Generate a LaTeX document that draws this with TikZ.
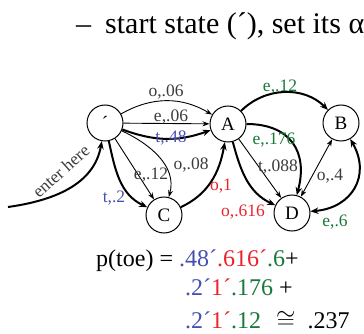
\documentclass[tikz,border=0pt]{standalone}
\usepackage{fontspec}
\setmainfont{Liberation Serif}
\usetikzlibrary{arrows.meta}
\definecolor{lblue}{RGB}{70,80,175}
\definecolor{lred}{RGB}{235,35,45}
\definecolor{lgreen}{RGB}{25,120,60}
\definecolor{lgray}{RGB}{60,60,60}
\begin{document}
\begin{tikzpicture}[x=1pt,y=1pt,
  st/.style={circle,draw,line width=1pt,minimum size=36pt,inner sep=0pt,font=\fontsize{19}{19}\selectfont},
  tedge/.style={line width=0.9pt,-{Stealth[length=7pt,width=5pt]}},
  kedge/.style={line width=2pt,-{Stealth[length=8pt,width=6.5pt]}},
  lab/.style={font=\fontsize{17.5}{17.5}\selectfont,inner sep=0pt,text=lgray},
  big/.style={font=\fontsize{24}{24}\selectfont,inner sep=0pt,anchor=base west},
  huge/.style={font=\fontsize{30}{30}\selectfont,inner sep=0pt,anchor=base west}
]
\useasboundingbox (0,0) rectangle (364,-334);
\clip (0,0) rectangle (364,-334);
% title
\node[huge] (dash) at (76,-34) {–};
\node[huge] (title) at (105,-34) {start state (´), set its α};
% states
\node[st] (S) at (105,-123) {´};
\node[st] (A) at (228,-124) {A};
\node[st] (B) at (341,-123) {B};
\node[st] (C) at (164,-215) {C};
\node[st] (D) at (292,-213) {D};
\coordinate (E) at (8,-207);
% edges
\draw[tedge] (S) to[bend left=30] (A);
\draw[tedge] (S) -- (A);
\draw[kedge] (S) to[bend right=20] (A);
\draw[tedge] (S) -- (C);
\draw[tedge] (S) to[out=-25,in=75] (C);
\draw[kedge] (S) to[out=-78,in=155] (C);
\draw[kedge] (E) to[out=8,in=-100] (S);
\draw[kedge] (C) to[out=25,in=-100] (A);
\draw[kedge] (A) to[out=45,in=135] (B);
\draw[kedge] (A) to[out=0,in=75,looseness=1.3] (D);
\draw[tedge] (A) -- (D);
\draw[kedge] (A) to[out=-75,in=155] (D);
\draw[tedge,{Stealth[length=7pt,width=5pt]}-{Stealth[length=7pt,width=5pt]}] (D) -- (B);
\draw[kedge,{Stealth[length=8pt,width=6.5pt]}-{Stealth[length=8pt,width=6.5pt]}] (D) to[out=5,in=-60,looseness=1.3] (B);
% labels
\node[lab] (l1) at (166,-92) {o,.06};
\node[lab] (l2) at (171,-117) {e,.06};
\node[lab,text=lblue] (l3) at (171,-138) {t,.48};
\node[lab] (l4) at (151,-175) {e,.12};
\node[lab] (l5) at (191,-165) {o,.08};
\node[lab,text=lblue] (l6) at (114,-198) {t,.2};
\node[lab,rotate=42] (l7) at (61,-171) {enter here};
\node[lab,text=lred] (l8) at (221,-186) {o,1};
\node[lab,text=lgreen] (l9) at (280,-87) {e,.12};
\node[lab,text=lgreen] (l10) at (274,-140) {e,.176};
\node[lab] (l11) at (278,-167) {t,.088};
\node[lab,text=lred] (l12) at (243,-212) {o,.616};
\node[lab] (l13) at (330,-176) {o,.4};
\node[lab,text=lgreen] (l14) at (335,-222) {e,.6};
% formula
\node[big] (f1) at (96,-266) {p(toe) = \textcolor{lblue}{.48´}\textcolor{lred}{.616´}\textcolor{lgreen}{.6}+};
\node[big] (f2) at (185,-295) {\textcolor{lblue}{.2´}\textcolor{lred}{1´}\textcolor{lgreen}{.176} +};
\node[big] (f3) at (185,-328) {\textcolor{lblue}{.2´}\textcolor{lred}{1´}\textcolor{lgreen}{.12}\hspace{15pt}$\cong$\hspace{12pt}.237};
\end{tikzpicture}
\end{document}
